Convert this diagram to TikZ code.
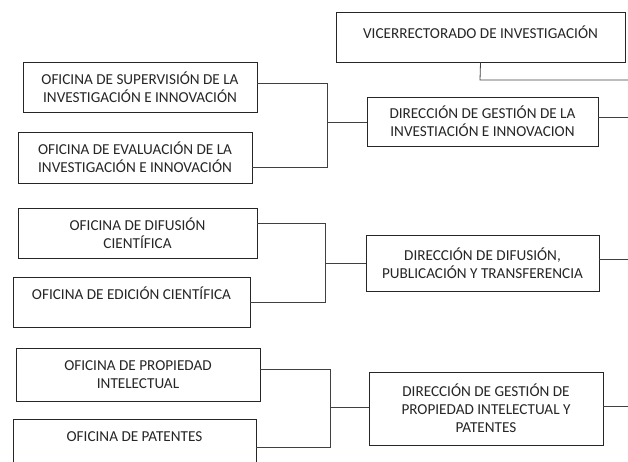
\documentclass[tikz,border=0pt]{standalone}
\usepackage{fontspec}
\setmainfont{Carlito}
\begin{document}
\begin{tikzpicture}[x=1pt,y=-1pt,
  box/.style={draw=black!85, line width=0.9pt, fill=white, align=center, inner sep=2pt,
    font=\fontsize{15.2}{18}\selectfont, text=black!85},
  conn/.style={draw=black!75, line width=0.8pt}]
\useasboundingbox (0,0) rectangle (628,462);
\begin{scope}
\clip (0,0) rectangle (628,462);
% nodes
\node[box, minimum width=289pt, minimum height=50pt] (vice) at (480.5,37) {\raisebox{4.5pt}[\height][\depth]{VICERRECTORADO DE INVESTIGACIÓN}};
\node[box, minimum width=231pt, minimum height=49pt] (dgi) at (482.5,121.5) {DIRECCIÓN DE GESTIÓN DE LA\\INVESTIACIÓN E INNOVACION};
\node[box, minimum width=234pt, minimum height=50pt] (sup) at (140,87) {OFICINA DE SUPERVISIÓN DE LA\\INVESTIGACIÓN E INNOVACIÓN};
\node[box, minimum width=234pt, minimum height=51pt] (eva) at (135,157.5) {OFICINA DE EVALUACIÓN DE LA\\INVESTIGACIÓN E INNOVACIÓN};
\node[box, minimum width=239pt, minimum height=50pt] (dif) at (137.5,233) {OFICINA DE DIFUSIÓN\\CIENTÍFICA};
\node[box, minimum width=237pt, minimum height=50pt] (edi) at (131.5,302) {\raisebox{8.5pt}[\height][\depth]{OFICINA DE EDICIÓN CIENTÍFICA}};
\node[box, minimum width=233pt, minimum height=56pt] (ddp) at (482.5,263) {DIRECCIÓN DE DIFUSIÓN,\\PUBLICACIÓN Y TRANSFERENCIA};
\node[box, minimum width=244pt, minimum height=53pt] (pro) at (138,374.5) {OFICINA DE PROPIEDAD\\INTELECTUAL};
\node[box, minimum width=243pt, minimum height=52pt] (pat) at (134.5,445) {\raisebox{8pt}[\height][\depth]{OFICINA DE PATENTES}};
\node[box, minimum width=234pt, minimum height=73pt] (dpi) at (486,408.5) {DIRECCIÓN DE GESTIÓN DE\\PROPIEDAD INTELECTUAL Y\\PATENTES};
% coordinates
\coordinate (b1t) at (327,83);
\coordinate (b1b) at (327,167);
\coordinate (b1m) at (327,122);
\coordinate (b2t) at (325,223);
\coordinate (b2b) at (325,302);
\coordinate (b2m) at (325,263);
\coordinate (b3t) at (330,369);
\coordinate (b3b) at (330,447);
\coordinate (b3m) at (330,407);
\coordinate (vk) at (480,80);
\coordinate (ve) at (628,80);
\coordinate (r1) at (628,117);
\coordinate (r2) at (628,259);
\coordinate (r3) at (628,406);
% connectors
\draw[conn] (sup.east |- b1t) -- (b1t) -- (b1b) -- (eva.east |- b1b);
\draw[conn] (b1m) -- (dgi.west |- b1m);
\draw[conn] (dif.east |- b2t) -- (b2t) -- (b2b) -- (edi.east |- b2b);
\draw[conn] (b2m) -- (ddp.west |- b2m);
\draw[conn] (pro.east |- b3t) -- (b3t) -- (b3b) -- (pat.east |- b3b);
\draw[conn] (b3m) -- (dpi.west |- b3m);
\draw[conn] (vice.south) -- (vk) -- (ve);
\draw[conn] (dgi.east |- r1) -- (r1);
\draw[conn] (ddp.east |- r2) -- (r2);
\draw[conn] (dpi.east |- r3) -- (r3);
\end{scope}
\end{tikzpicture}
\end{document}
